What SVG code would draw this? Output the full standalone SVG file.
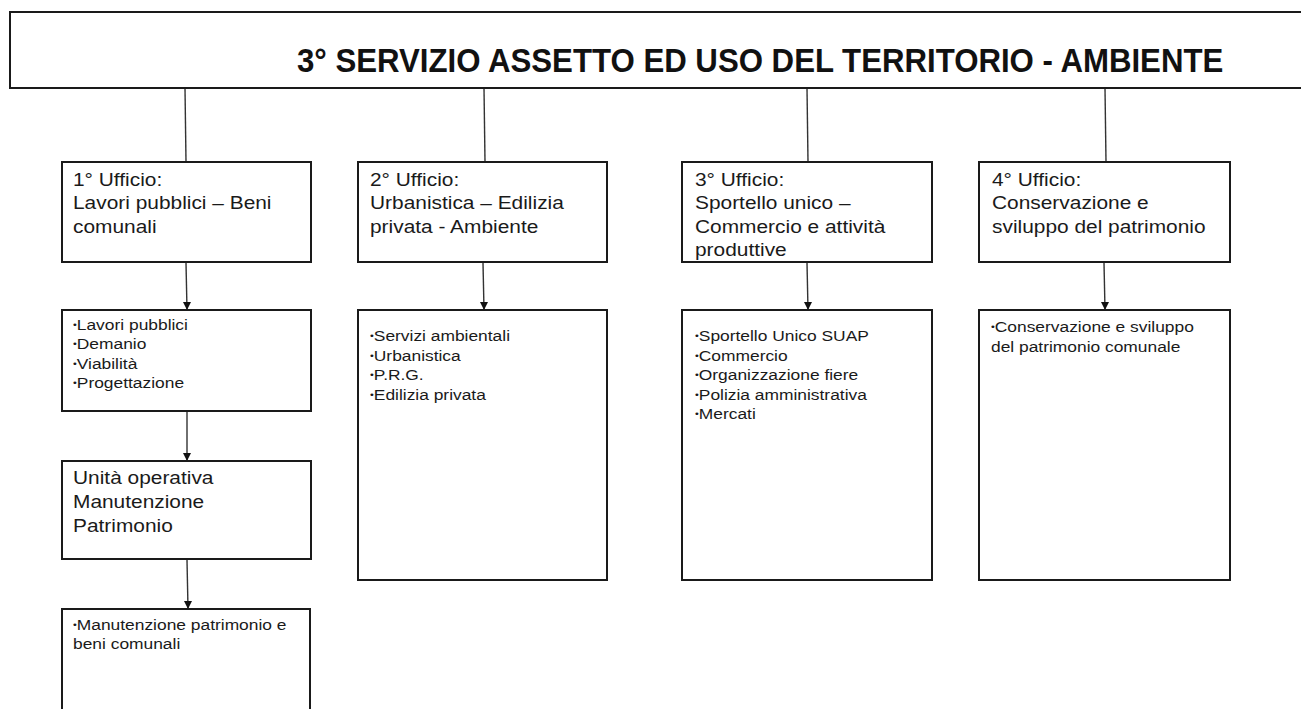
<svg xmlns="http://www.w3.org/2000/svg" width="1301" height="709" viewBox="0 0 1301 709">
<style>
.box{fill:#fff;stroke:#1a1a1a;stroke-width:2}
.ln{stroke:#333;stroke-width:1.4;fill:none}
.title{font-family:"Liberation Sans",Arial,sans-serif;font-weight:bold;font-size:32.5px;fill:#111}
.off{font-family:"Liberation Sans",Arial,sans-serif;font-size:18.5px;fill:#1a1a1a}
.bul{font-family:"Liberation Sans",Arial,sans-serif;font-size:14.5px;fill:#1a1a1a}
.dot{font-size:9px}
</style>
<defs>
<marker id="ah" markerWidth="8" markerHeight="9" refX="4" refY="9" orient="auto-start-reverse" markerUnits="userSpaceOnUse" viewBox="0 0 8 9">
<path d="M0,0 L8,0 L4,9 Z" fill="#111" transform="rotate(0)"/>
</marker>
</defs>
<g id="connectors">
<line class="ln" x1="185" y1="88" x2="186" y2="162"/>
<line class="ln" x1="484" y1="88" x2="485" y2="162"/>
<line class="ln" x1="807" y1="88" x2="808" y2="162"/>
<line class="ln" x1="1105" y1="88" x2="1106" y2="162"/>
<line class="ln" x1="186" y1="263" x2="187" y2="310"/>
<line class="ln" x1="483" y1="263" x2="484" y2="310"/>
<line class="ln" x1="807" y1="263" x2="808" y2="310"/>
<line class="ln" x1="1104" y1="263" x2="1105" y2="310"/>
<line class="ln" x1="187" y1="412" x2="187" y2="461"/>
<line class="ln" x1="187" y1="560" x2="188" y2="609"/>
</g>
<g id="arrowheads" fill="#111">
<path d="M183,302 L191,302 L187,310 Z"/>
<path d="M480,302 L488,302 L484,310 Z"/>
<path d="M804,302 L812,302 L808,310 Z"/>
<path d="M1101,302 L1109,302 L1105,310 Z"/>
<path d="M183,453 L191,453 L187,461 Z"/>
<path d="M184,601 L192,601 L188,609 Z"/>
</g>
<g id="title">
<rect class="box" x="10" y="12" width="1300" height="76"/>
<g transform="translate(297,0) scale(0.96,1)"><text class="title" x="0" y="72">3° SERVIZIO ASSETTO ED USO DEL TERRITORIO - AMBIENTE</text></g>
</g>
<g id="ufficio1">
<rect class="box" x="62" y="162" width="249" height="100"/>
<g transform="translate(73,0) scale(1.13,1)"><text class="off"><tspan x="0" y="186">1° Ufficio:</tspan><tspan x="0" y="209.5">Lavori pubblici – Beni</tspan><tspan x="0" y="233">comunali</tspan></text></g>
</g>
<g id="ufficio2">
<rect class="box" x="358" y="162" width="249" height="100"/>
<g transform="translate(370,0) scale(1.13,1)"><text class="off"><tspan x="0" y="186">2° Ufficio:</tspan><tspan x="0" y="209.5">Urbanistica – Edilizia</tspan><tspan x="0" y="233">privata - Ambiente</tspan></text></g>
</g>
<g id="ufficio3">
<rect class="box" x="682" y="162" width="250" height="100"/>
<g transform="translate(695,0) scale(1.13,1)"><text class="off"><tspan x="0" y="186">3° Ufficio:</tspan><tspan x="0" y="209.5">Sportello unico –</tspan><tspan x="0" y="233">Commercio e attività</tspan><tspan x="0" y="256">produttive</tspan></text></g>
</g>
<g id="ufficio4">
<rect class="box" x="979" y="162" width="251" height="100"/>
<g transform="translate(992,0) scale(1.13,1)"><text class="off"><tspan x="0" y="186">4° Ufficio:</tspan><tspan x="0" y="209.5">Conservazione e</tspan><tspan x="0" y="233">sviluppo del patrimonio</tspan></text></g>
</g>
<g id="compiti1">
<rect class="box" x="62" y="310" width="249" height="101"/>
<g transform="translate(73,0) scale(1.2,1)"><text class="bul">
<tspan x="0" y="328" class="dot">•</tspan><tspan dy="2">Lavori pubblici</tspan>
<tspan x="0" y="347.5" class="dot">•</tspan><tspan dy="2">Demanio</tspan>
<tspan x="0" y="367" class="dot">•</tspan><tspan dy="2">Viabilità</tspan>
<tspan x="0" y="386.5" class="dot">•</tspan><tspan dy="2">Progettazione</tspan>
</text></g>
</g>
<g id="compiti2">
<rect class="box" x="358" y="310" width="249" height="270"/>
<g transform="translate(370,0) scale(1.2,1)"><text class="bul">
<tspan x="0" y="339.5" class="dot">•</tspan><tspan dy="2">Servizi ambientali</tspan>
<tspan x="0" y="359" class="dot">•</tspan><tspan dy="2">Urbanistica</tspan>
<tspan x="0" y="378.5" class="dot">•</tspan><tspan dy="2">P.R.G.</tspan>
<tspan x="0" y="398" class="dot">•</tspan><tspan dy="2">Edilizia privata</tspan>
</text></g>
</g>
<g id="compiti3">
<rect class="box" x="682" y="310" width="250" height="270"/>
<g transform="translate(695,0) scale(1.2,1)"><text class="bul">
<tspan x="0" y="339.5" class="dot">•</tspan><tspan dy="2">Sportello Unico SUAP</tspan>
<tspan x="0" y="359" class="dot">•</tspan><tspan dy="2">Commercio</tspan>
<tspan x="0" y="378.5" class="dot">•</tspan><tspan dy="2">Organizzazione fiere</tspan>
<tspan x="0" y="398" class="dot">•</tspan><tspan dy="2">Polizia amministrativa</tspan>
<tspan x="0" y="417.5" class="dot">•</tspan><tspan dy="2">Mercati</tspan>
</text></g>
</g>
<g id="compiti4">
<rect class="box" x="979" y="310" width="251" height="270"/>
<g transform="translate(991,0) scale(1.2,1)"><text class="bul">
<tspan x="0" y="330" class="dot">•</tspan><tspan dy="2">Conservazione e sviluppo</tspan>
<tspan x="0" y="352">del patrimonio comunale</tspan>
</text></g>
</g>
<g id="unita">
<rect class="box" x="62" y="461" width="249" height="98"/>
<g transform="translate(73,0) scale(1.13,1)"><text class="off"><tspan x="0" y="484">Unità operativa</tspan><tspan x="0" y="508">Manutenzione</tspan><tspan x="0" y="532">Patrimonio</tspan></text></g>
</g>
<g id="compiti-unita">
<rect class="box" x="62" y="609" width="248" height="115"/>
<g transform="translate(73,0) scale(1.2,1)"><text class="bul">
<tspan x="0" y="628" class="dot">•</tspan><tspan dy="2">Manutenzione patrimonio e</tspan>
<tspan x="0" y="649">beni comunali</tspan>
</text></g>
</g>
</svg>
